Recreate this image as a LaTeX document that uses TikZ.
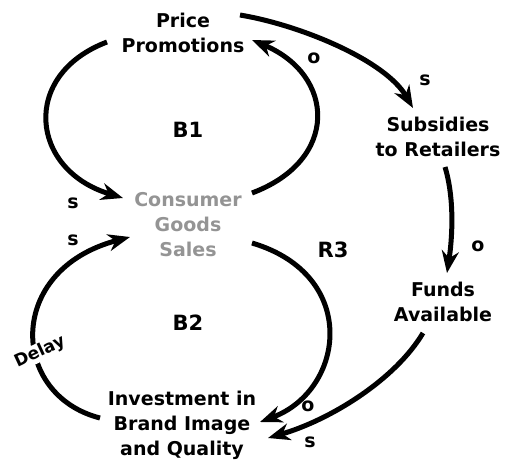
\documentclass[tikz,border=0pt]{standalone}
\usepackage{fontspec}
\newfontfamily\handfont{DejaVu Sans}
\usetikzlibrary{arrows.meta,calc}
\begin{document}
\begin{tikzpicture}[x=1pt,y=-1pt,
  var/.style={align=center,inner sep=0pt,font=\handfont\bfseries\fontsize{19}{25}\selectfont},
  loopname/.style={font=\handfont\bfseries\fontsize{21}{25}\selectfont},
  pol/.style={font=\handfont\bfseries\fontsize{19}{20}\selectfont},
  link/.style={line width=5pt,-{Stealth[length=22pt,width=17pt,inset=7pt]}}]
\useasboundingbox (0,0) rectangle (506,464);
% variables
\node[var] (pp) at (183,33) {Price\\Promotions};
\node[var,text=black!42] (cs) at (188,225) {Consumer\\Goods\\Sales};
\node[var] (sr) at (438,137) {Subsidies\\to Retailers};
\node[var] (fa) at (443,302) {Funds\\Available};
\node[var] (ib) at (182,425) {Investment in\\Brand Image\\and Quality};
% loop labels
\node[loopname] (b1) at (188,130) {B1};
\node[loopname] (r3) at (333,250) {R3};
\node[loopname] (b2) at (188,323) {B2};
% links
\draw[link] (107,42) .. controls (20,75) and (30,170) .. (123,198);
\draw[link] (252,193) .. controls (340,160) and (335,75) .. (252,40);
\draw[link] (240,15) .. controls (300,25) and (385,60) .. (413,108);
\draw[link] (445,167) .. controls (455,200) and (452,240) .. (447,273);
\draw[link] (423,333) .. controls (395,380) and (330,420) .. (268,438);
\draw[link] (252,243) .. controls (360,275) and (345,390) .. (260,422);
\draw[link] (100,418) .. controls (10,395) and (5,270) .. (130,237);
% delay label covering the link
\node[rotate=25,fill=white,inner sep=1pt,font=\handfont\bfseries\fontsize{17}{18}\selectfont] (dl) at (40,352) {Delay};
% polarities
\node[pol] (p1) at (73,203) {s};
\node[pol] (p2) at (73,240) {s};
\node[pol] (p3) at (314,58) {o};
\node[pol] (p4) at (425,80) {s};
\node[pol] (p5) at (478,246) {o};
\node[pol] (p6) at (308,406) {o};
\node[pol] (p7) at (310,442) {s};
\end{tikzpicture}
\end{document}
